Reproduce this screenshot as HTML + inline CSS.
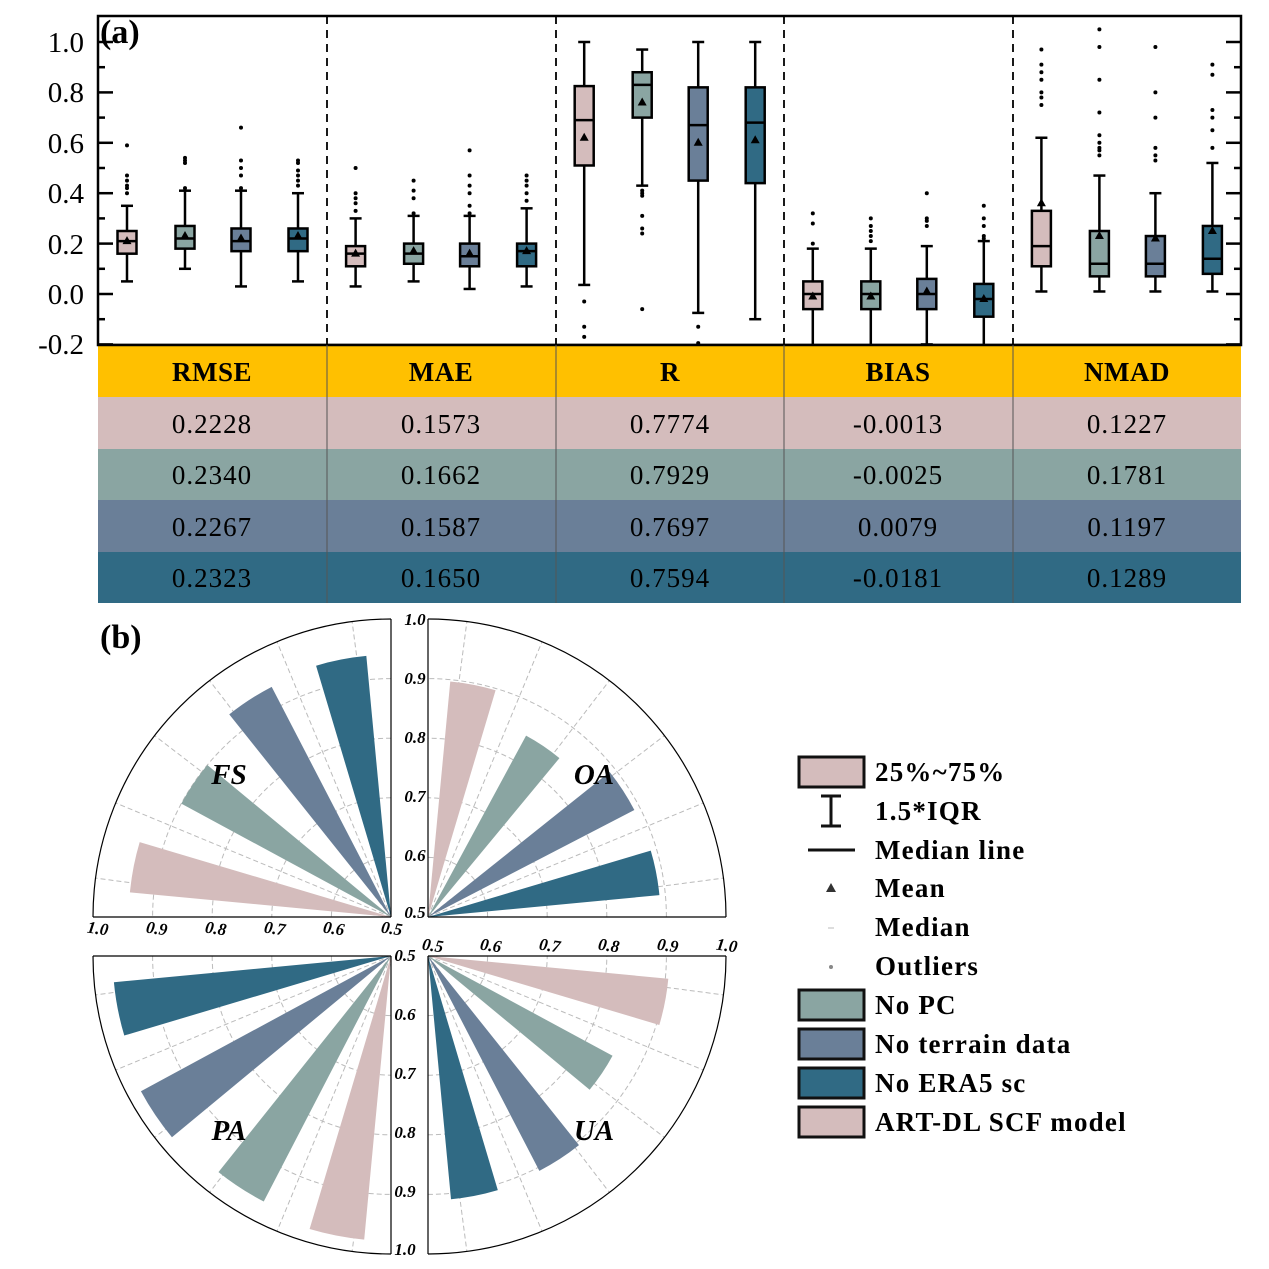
<!DOCTYPE html>
<html><head><meta charset="utf-8"><style>
html,body{margin:0;padding:0;background:#fff;}
svg{display:block;font-family:"Liberation Serif",serif;}
</style></head><body>
<svg id="s" width="1269" height="1269" viewBox="0 0 1269 1269" xmlns="http://www.w3.org/2000/svg">
<defs><clipPath id="pc"><rect x="98" y="16" width="1143" height="329"/></clipPath></defs>
<g id="boxes" clip-path="url(#pc)"></g>
<g id="axes"></g>
<g font-size="29" text-anchor="end" fill="#000">
<text x="84" y="52">1.0</text><text x="84" y="102">0.8</text><text x="84" y="153">0.6</text>
<text x="84" y="203">0.4</text><text x="84" y="254">0.2</text><text x="84" y="304">0.0</text>
<text x="84" y="354">-0.2</text>
</g>
<text x="100" y="43" font-size="34" font-weight="bold">(a)</text>
<rect x="98" y="345" width="1143" height="52" fill="#FFC000"/>
<rect x="98" y="397" width="1143" height="52" fill="#D4BCBC"/>
<rect x="98" y="449" width="1143" height="51" fill="#8AA5A2"/>
<rect x="98" y="500" width="1143" height="52" fill="#6A7F98"/>
<rect x="98" y="552" width="1143" height="51" fill="#306A84"/>
<line x1="98" y1="345" x2="1241" y2="345" stroke="#000" stroke-width="2.5"/>
<g stroke="#555" stroke-width="1"><line x1="327" y1="345" x2="327" y2="603"/><line x1="556" y1="345" x2="556" y2="603"/><line x1="784" y1="345" x2="784" y2="603"/><line x1="1013" y1="345" x2="1013" y2="603"/></g>
<g font-size="27" text-anchor="middle" font-weight="bold" letter-spacing="0.5">
<text x="212" y="381">RMSE</text><text x="441" y="381">MAE</text><text x="670" y="381">R</text><text x="898" y="381">BIAS</text><text x="1127" y="381">NMAD</text>
</g>
<g font-size="27" text-anchor="middle" letter-spacing="1">
<text x="212" y="433">0.2228</text><text x="441" y="433">0.1573</text><text x="670" y="433">0.7774</text><text x="898" y="433">-0.0013</text><text x="1127" y="433">0.1227</text>
<text x="212" y="484">0.2340</text><text x="441" y="484">0.1662</text><text x="670" y="484">0.7929</text><text x="898" y="484">-0.0025</text><text x="1127" y="484">0.1781</text>
<text x="212" y="536">0.2267</text><text x="441" y="536">0.1587</text><text x="670" y="536">0.7697</text><text x="898" y="536">0.0079</text><text x="1127" y="536">0.1197</text>
<text x="212" y="587">0.2323</text><text x="441" y="587">0.1650</text><text x="670" y="587">0.7594</text><text x="898" y="587">-0.0181</text><text x="1127" y="587">0.1289</text>
</g>
<g id="polar"></g>
<text x="100" y="648" font-size="34" font-weight="bold">(b)</text>
<g font-size="29" font-weight="bold" font-style="italic" text-anchor="middle">
<text x="229" y="784">FS</text><text x="594" y="784">OA</text><text x="229" y="1140">PA</text><text x="594" y="1140">UA</text>
</g>
<g font-size="17" font-weight="bold" font-style="italic" text-anchor="middle">
<text x="97" y="934" transform="rotate(8 97 934)">1.0</text><text x="156" y="934" transform="rotate(8 156 934)">0.9</text>
<text x="215" y="934" transform="rotate(8 215 934)">0.8</text><text x="274" y="934" transform="rotate(8 274 934)">0.7</text>
<text x="333" y="934" transform="rotate(8 333 934)">0.6</text><text x="391" y="934" transform="rotate(8 391 934)">0.5</text>
<text x="415" y="625">1.0</text><text x="415" y="684">0.9</text><text x="415" y="743">0.8</text><text x="415" y="802">0.7</text><text x="415" y="861">0.6</text><text x="415" y="918">0.5</text>
<text x="405" y="961">0.5</text><text x="405" y="1020">0.6</text><text x="405" y="1079">0.7</text><text x="405" y="1138">0.8</text><text x="405" y="1197">0.9</text><text x="405" y="1255">1.0</text>
<text x="432" y="951" transform="rotate(8 432 951)">0.5</text><text x="490" y="951" transform="rotate(8 490 951)">0.6</text>
<text x="549" y="951" transform="rotate(8 549 951)">0.7</text><text x="608" y="951" transform="rotate(8 608 951)">0.8</text>
<text x="667" y="951" transform="rotate(8 667 951)">0.9</text><text x="726" y="951" transform="rotate(8 726 951)">1.0</text>
</g>
<g stroke="#111" stroke-width="3">
<rect x="799" y="757" width="65" height="30" fill="#D4BCBC"/>
<rect x="799" y="990" width="65" height="30" fill="#8AA5A2"/>
<rect x="799" y="1029" width="65" height="30" fill="#6A7F98"/>
<rect x="799" y="1068" width="65" height="30" fill="#306A84"/>
<rect x="799" y="1107" width="65" height="30" fill="#D4BCBC"/>
<line x1="831" y1="796" x2="831" y2="826"/><line x1="821" y1="796" x2="841" y2="796"/><line x1="821" y1="826" x2="841" y2="826"/>
<line x1="808" y1="850" x2="855" y2="850"/>
<line x1="828" y1="928" x2="834" y2="928" stroke="#bbb" stroke-width="1"/>
</g>
<polygon points="831,883 836,892 826,892" fill="#333"/>
<circle cx="831" cy="967" r="2" fill="#888"/>
<g font-size="27" font-weight="bold" letter-spacing="1.2">
<text x="875" y="781">25%~75%</text><text x="875" y="820">1.5*IQR</text><text x="875" y="859">Median line</text>
<text x="875" y="897">Mean</text><text x="875" y="936">Median</text><text x="875" y="975">Outliers</text>
<text x="875" y="1014">No PC</text><text x="875" y="1053">No terrain data</text><text x="875" y="1092">No ERA5 sc</text><text x="875" y="1131">ART-DL SCF model</text>
</g>
<script>
(function(){
var NS="http://www.w3.org/2000/svg";
function el(p,t,a){var e=document.createElementNS(NS,t);for(var k in a)e.setAttribute(k,a[k]);p.appendChild(e);return e;}
var C=["#D4BCBC","#8AA5A2","#6A7F98","#306A84"];
function Y(v){return 294-252*v;}
var B=document.getElementById("boxes"),A=document.getElementById("axes");
var D=[
[[0.05,0.16,0.21,0.25,0.35,0.21,[0.40,0.42,0.43,0.45,0.47,0.59]],
 [0.10,0.18,0.22,0.27,0.41,0.23,[0.42,0.52,0.53,0.54]],
 [0.03,0.17,0.21,0.26,0.41,0.22,[0.42,0.47,0.50,0.53,0.66]],
 [0.05,0.17,0.22,0.26,0.40,0.23,[0.43,0.45,0.47,0.49,0.52,0.53]]],
[[0.03,0.11,0.16,0.19,0.30,0.16,[0.33,0.36,0.38,0.40,0.50]],
 [0.05,0.12,0.16,0.20,0.31,0.17,[0.32,0.38,0.41,0.45]],
 [0.02,0.11,0.15,0.20,0.31,0.16,[0.32,0.35,0.40,0.43,0.47,0.57]],
 [0.03,0.11,0.17,0.20,0.34,0.17,[0.37,0.40,0.43,0.45,0.47]]],
[[0.036,0.51,0.69,0.825,1.0,0.62,[-0.03,-0.13,-0.17]],
 [0.43,0.70,0.83,0.88,0.97,0.76,[0.41,0.40,0.39,0.31,0.26,0.24,-0.06]],
 [-0.075,0.45,0.67,0.82,1.0,0.60,[-0.13,-0.195]],
 [-0.10,0.44,0.68,0.82,1.0,0.61,[]]],
[[-0.25,-0.06,0.0,0.05,0.18,-0.01,[0.20,0.28,0.32]],
 [-0.25,-0.06,0.0,0.05,0.18,-0.01,[0.21,0.23,0.25,0.27,0.30]],
 [-0.20,-0.06,0.0,0.06,0.19,0.01,[0.27,0.29,0.30,0.40]],
 [-0.25,-0.09,-0.02,0.04,0.21,-0.02,[0.22,0.23,0.27,0.30,0.35]]],
[[0.01,0.11,0.19,0.33,0.62,0.36,[0.75,0.78,0.80,0.85,0.88,0.91,0.97]],
 [0.01,0.07,0.12,0.25,0.47,0.23,[0.55,0.57,0.58,0.60,0.63,0.72,0.85,0.98,1.05]],
 [0.01,0.07,0.12,0.23,0.40,0.22,[0.53,0.55,0.58,0.70,0.80,0.98]],
 [0.01,0.08,0.14,0.27,0.52,0.25,[0.58,0.65,0.70,0.73,0.87,0.91]]]];
var off=[29,87,143,200];
for(var s=0;s<5;s++)for(var i=0;i<4;i++){
 var d=D[s][i],x=98+228.6*s+off[i],w=9.5;
 var g=el(B,"g",{stroke:"#000","stroke-width":2.5,fill:"none"});
 el(g,"line",{x1:x,y1:Y(d[4]),x2:x,y2:Y(d[3])});
 el(g,"line",{x1:x,y1:Y(d[1]),x2:x,y2:Y(d[0])});
 el(g,"line",{x1:x-6,y1:Y(d[4]),x2:x+6,y2:Y(d[4])});
 el(g,"line",{x1:x-6,y1:Y(d[0]),x2:x+6,y2:Y(d[0])});
 el(g,"rect",{x:x-w,y:Y(d[3]),width:2*w,height:Y(d[1])-Y(d[3]),fill:C[i]});
 el(g,"line",{x1:x-w,y1:Y(d[2]),x2:x+w,y2:Y(d[2])});
 var my=Y(d[5]);
 el(B,"polygon",{points:(x)+","+(my-5)+" "+(x+4.5)+","+(my+3)+" "+(x-4.5)+","+(my+3),fill:"#000"});
 d[6].forEach(function(o){el(B,"circle",{cx:x,cy:Y(o),r:2,fill:"#000"});});
}
[327,556,784,1013].forEach(function(x){el(A,"line",{x1:x,y1:16,x2:x,y2:345,stroke:"#000","stroke-width":1.8,"stroke-dasharray":"8,6"});});
el(A,"rect",{x:98,y:16,width:1143,height:329,fill:"none",stroke:"#000","stroke-width":2.5});
for(var v=-0.2;v<=1.05;v+=0.1){var y=Y(v),maj=Math.round(v*10)%2==0;
 el(A,"line",{x1:98,y1:y,x2:maj?113:105,y2:y,stroke:"#000","stroke-width":2.5});
 el(A,"line",{x1:1241,y1:y,x2:maj?1226:1234,y2:y,stroke:"#000","stroke-width":2.5});}
var P=document.getElementById("polar"),R=298;
function pt(cx,cy,r,phi){var a=phi*Math.PI/180;return [cx+r*Math.cos(a),cy-r*Math.sin(a)];}
function arc(cx,cy,r,a0,a1){var p0=pt(cx,cy,r,a0),p1=pt(cx,cy,r,a1);return "M"+p0[0]+","+p0[1]+" A"+r+","+r+" 0 0 0 "+p1[0]+","+p1[1];}
var Q=[
 {cx:391,cy:917,base:90,vals:[[79,0.94,3],[57,0.935,2],[34,0.90,1],[11,0.94,0]],f:function(t){return 180-t;}},
 {cx:428,cy:917,base:0,vals:[[11,0.897,0],[34,0.846,1],[57,0.89,2],[79,0.89,3]],f:function(t){return 90-t;}},
 {cx:391,cy:956,base:180,vals:[[11,0.967,3],[34,0.977,2],[57,0.964,1],[79,0.978,0]],f:function(t){return 180+t;}},
 {cx:428,cy:956,base:270,vals:[[11,0.905,0],[34,0.852,1],[57,0.906,2],[79,0.91,3]],f:function(t){return 360-t;}}];
Q.forEach(function(q){
 var g=el(P,"g",{});
 for(var k=1;k<=4;k++){el(g,"path",{d:arc(q.cx,q.cy,R*k/5,q.base,q.base+90),fill:"none",stroke:"#bbb","stroke-width":1,"stroke-dasharray":"5,3"});}
 for(var a=7.5;a<90;a+=15){var p=pt(q.cx,q.cy,R,q.base+a);el(g,"line",{x1:q.cx,y1:q.cy,x2:p[0],y2:p[1],stroke:"#bbb","stroke-width":1,"stroke-dasharray":"5,3"});}
 q.vals.forEach(function(b){
  var r=(b[1]-0.5)/0.5*R,c=q.f(b[0]),a0=c-5.6,a1=c+5.6;
  var p0=pt(q.cx,q.cy,r,a0),p1=pt(q.cx,q.cy,r,a1);
  el(g,"path",{d:"M"+q.cx+","+q.cy+" L"+p0[0]+","+p0[1]+" A"+r+","+r+" 0 0 0 "+p1[0]+","+p1[1]+" Z",fill:C[b[2]]});
 });
 el(g,"path",{d:arc(q.cx,q.cy,R,q.base,q.base+90),fill:"none",stroke:"#000","stroke-width":1.2});
 var e0=pt(q.cx,q.cy,R,q.base),e1=pt(q.cx,q.cy,R,q.base+90);
 el(g,"line",{x1:q.cx,y1:q.cy,x2:e0[0],y2:e0[1],stroke:"#000","stroke-width":1.2});
 el(g,"line",{x1:q.cx,y1:q.cy,x2:e1[0],y2:e1[1],stroke:"#000","stroke-width":1.2});
});
})();
</script>
</svg>
</body></html>
